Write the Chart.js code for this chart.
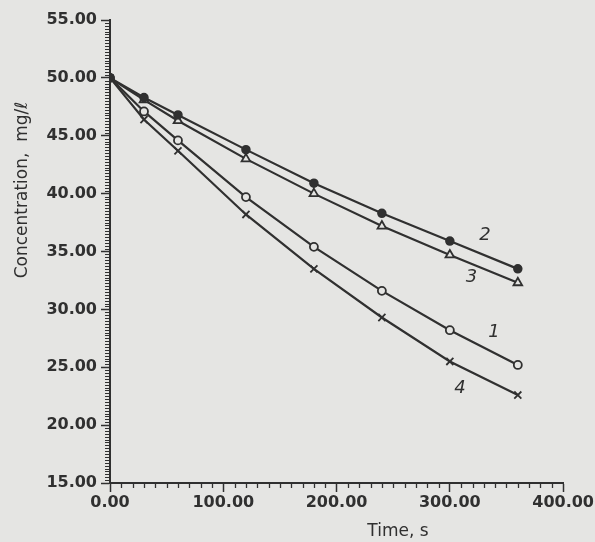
<!DOCTYPE html>
<html>
<head>
<meta charset="utf-8">
<script src="https://cdn.jsdelivr.net/npm/chart.js@4"></script>
<style>
  html, body { margin: 0; padding: 0; background: #e5e5e3; }
  #wrap { width: 595px; height: 542px; }
</style>
</head>
<body>
<div id="wrap"><canvas id="myChart" width="595" height="542"></canvas></div>
<script>
// time in seconds
const times = [0, 30, 60, 120, 180, 240, 300, 360];
// concentration, mg/l
const curve1 = [50, 47.1, 44.6, 39.7, 35.4, 31.6, 28.2, 25.2];
const curve2 = [50, 48.3, 46.8, 43.8, 40.9, 38.3, 35.9, 33.5];
const curve3 = [50, 48.1, 46.3, 43.0, 40.0, 37.2, 34.7, 32.3];
const curve4 = [50, 46.4, 43.7, 38.2, 33.5, 29.3, 25.5, 22.6];
// curve numbers written next to the lines (in data units)
const curveNames = ["2", "3", "1", "4"];
const nameX = [331, 319, 339, 309];
const nameY = [36.4, 32.8, 28.0, 23.2];

const ink = "#303030";
const paper = "#e5e5e3";

function pts(ys) {
  return times.map((t, i) => ({ x: t, y: ys[i] }));
}

const extras = {
  id: "extras",
  beforeDraw(chart) {
    const c = chart.ctx;
    c.save();
    c.fillStyle = paper;
    c.fillRect(0, 0, chart.width, chart.height);
    c.restore();
  },
  afterDraw(chart) {
    const c = chart.ctx;
    const xs = chart.scales.x, ys = chart.scales.y;
    c.save();
    c.strokeStyle = ink;
    c.lineWidth = 1.3;
    // minor ticks
    for (let v = 10; v < 400; v += 10) {
      if (v % 100 === 0) continue;
      const px = Math.round(xs.getPixelForValue(v)) + 0.5;
      c.beginPath();
      c.moveTo(px, ys.bottom);
      c.lineTo(px, ys.bottom + 5);
      c.stroke();
    }
    c.lineWidth = 1;
    for (let k = 61; k < 220; k++) {
      const v = k * 0.25;
      if (k % 20 === 0) continue;
      const py = Math.round(ys.getPixelForValue(v)) + 0.5;
      c.beginPath();
      c.moveTo(xs.left - 5, py);
      c.lineTo(xs.left, py);
      c.stroke();
    }
    // axis titles
    c.fillStyle = ink;
    c.font = "17px 'DejaVu Sans'";
    c.textAlign = "center";
    c.textBaseline = "middle";
    c.fillText("Time, s", 398, 532);
    c.save();
    c.translate(23, 190);
    c.rotate(-Math.PI / 2);
    c.fillText("Concentration,  mg/\u2113", 0, 0);
    c.restore();
    // curve numbers
    c.font = "italic 18px 'DejaVu Sans'";
    curveNames.forEach((n, i) => {
      c.fillText(n, xs.getPixelForValue(nameX[i]), ys.getPixelForValue(nameY[i]));
    });
    c.restore();
  }
};

const tickFont = { family: "'DejaVu Sans'", size: 16, weight: "bold" };

new Chart("myChart", {
  type: "line",
  data: {
    datasets: [
      {
        label: "2",
        data: pts(curve2),
        borderColor: ink,
        borderWidth: 2.2,
        pointStyle: "circle",
        pointRadius: 4,
        pointBackgroundColor: ink,
        pointBorderColor: ink,
        pointBorderWidth: 1.5
      },
      {
        label: "3",
        data: pts(curve3),
        borderColor: ink,
        borderWidth: 2.2,
        pointStyle: "triangle",
        pointRadius: 5,
        pointBackgroundColor: paper,
        pointBorderColor: ink,
        pointBorderWidth: 1.8
      },
      {
        label: "1",
        data: pts(curve1),
        borderColor: ink,
        borderWidth: 2.2,
        pointStyle: "circle",
        pointRadius: 4,
        pointBackgroundColor: paper,
        pointBorderColor: ink,
        pointBorderWidth: 1.8
      },
      {
        label: "4",
        data: pts(curve4),
        borderColor: ink,
        borderWidth: 2.2,
        pointStyle: "crossRot",
        pointRadius: 5,
        pointBorderColor: ink,
        pointBorderWidth: 1.8
      }
    ]
  },
  options: {
    responsive: false,
    animation: false,
    events: [],
    layout: { padding: { top: 20, right: 28, left: 0, bottom: 0 } },
    plugins: { legend: { display: false }, tooltip: { enabled: false } },
    elements: { line: { tension: 0 } },
    scales: {
      x: {
        type: "linear",
        min: 0,
        max: 400,
        afterFit: (s) => { s.height = 59; },
        border: { display: true, color: ink, width: 2 },
        grid: { drawOnChartArea: false, drawTicks: true, tickLength: 9, tickColor: ink, tickWidth: 1.5 },
        ticks: {
          stepSize: 100,
          maxRotation: 0,
          padding: 1,
          color: ink,
          font: tickFont,
          callback: (v) => Number(v).toFixed(2)
        }
      },
      y: {
        type: "linear",
        min: 15,
        max: 55,
        afterFit: (s) => { s.width = 110; },
        border: { display: true, color: ink, width: 2 },
        grid: { drawOnChartArea: false, drawTicks: true, tickLength: 9, tickColor: ink, tickWidth: 1.5 },
        ticks: {
          stepSize: 5,
          padding: 4,
          color: ink,
          font: tickFont,
          callback: (v) => Number(v).toFixed(2)
        }
      }
    }
  },
  plugins: [extras]
});
</script>
</body>
</html>
